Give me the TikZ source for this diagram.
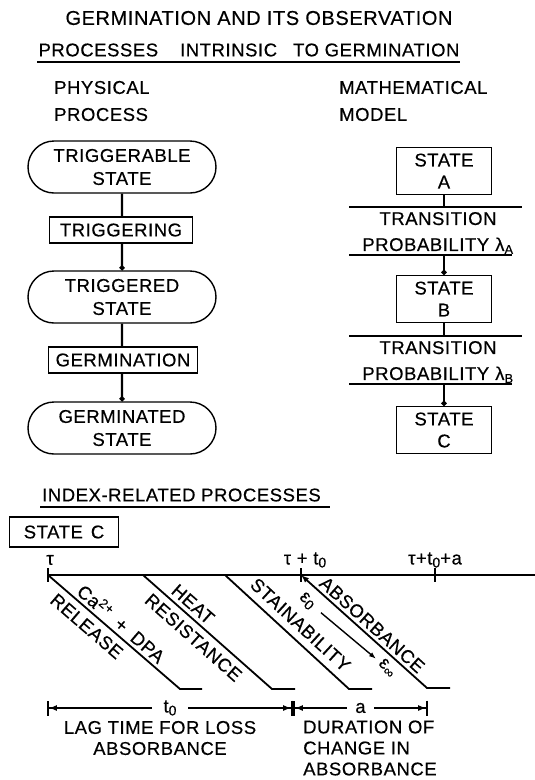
\documentclass[tikz,border=0pt]{standalone}
\usepackage{fontspec}
\setmainfont{Liberation Sans}[LetterSpace=3,FakeBold=0.4]
\usetikzlibrary{arrows.meta,shapes.misc}

\newcommand{\lowsub}[1]{\raisebox{-3pt}{\fontsize{14}{14}\selectfont #1}}

\begin{document}
\begin{tikzpicture}[x=1pt,y=-1pt,
  lbl/.style={font=\fontsize{18.5}{21}\selectfont,inner sep=1pt},
  stadium/.style={lbl,draw,line width=1.4pt,rounded rectangle,minimum width=190pt,minimum height=52pt,align=center},
  procbox/.style={lbl,draw,line width=1.4pt,minimum height=26pt},
  statebox/.style={lbl,draw,line width=1.4pt,minimum width=95pt,minimum height=47pt,align=center},
  conn/.style={line width=2.2pt},
  dotconn/.style={conn,-{Circle[length=5pt]}},
  slant/.style={line width=1.8pt},
  dim/.style={line width=1.8pt,{Bar[width=15pt]Latex[length=8pt,width=6pt]}-{Latex[length=8pt,width=6pt]Bar[width=15pt]}}]
\useasboundingbox (0,0) rectangle (535,780);

% headings
\node[font=\fontsize{20}{23}\selectfont] (title) at (259,18) {GERMINATION AND ITS OBSERVATION};
\node[lbl] (intr) at (249,50) {PROCESSES\hspace{22pt}INTRINSIC\hspace{16pt}TO GERMINATION};
\draw[line width=1.4pt] (37,62) -- (460,62);
\node[lbl,align=left,anchor=west] (phys) at (53,101) {PHYSICAL\\[6pt]PROCESS};
\node[lbl,align=left,anchor=west] (math) at (338,101) {MATHEMATICAL\\[6pt]MODEL};

% physical process
\node[stadium] (e1) at (122,167) {TRIGGERABLE\\[2pt]STATE};
\node[procbox,minimum width=143pt] (trg) at (121,230) {TRIGGERING};
\node[stadium] (e2) at (122,297) {TRIGGERED\\[2pt]STATE};
\node[procbox,minimum width=149pt] (grm) at (123,360) {GERMINATION};
\node[stadium] (e3) at (122,428) {GERMINATED\\[2pt]STATE};
\draw[conn] (e1) -- (e1 |- trg.north);
\draw[dotconn] (e1 |- trg.south) -- (e2);
\draw[conn] (e2) -- (e2 |- grm.north);
\draw[dotconn] (e2 |- grm.south) -- (e3);

% mathematical model
\node[statebox] (sa) at (444,171) {STATE\\[1pt]A};
\coordinate (ha1) at (349,207);
\coordinate (ha2) at (349,255);
\draw[line width=1.4pt] (ha1) -- ++(173,0);
\draw[line width=1.4pt] (ha2) -- ++(163,0);
\node[lbl,align=center] (pa) at (438,233) {TRANSITION\\[5pt]PROBABILITY\hspace{6pt}λ\textsubscript{A}};
\node[statebox] (sb) at (444,299) {STATE\\[1pt]B};
\coordinate (hb1) at (349,336);
\coordinate (hb2) at (349,384);
\draw[line width=1.4pt] (hb1) -- ++(173,0);
\draw[line width=1.4pt] (hb2) -- ++(163,0);
\node[lbl,align=center] (pb) at (438,362) {TRANSITION\\[5pt]PROBABILITY\hspace{6pt}λ\textsubscript{B}};
\node[statebox] (sc) at (444,430) {STATE\\[1pt]C};
\draw[conn] (sa) -- (sa |- ha1);
\draw[dotconn] (sa |- ha2) -- (sb);
\draw[conn] (sb) -- (sb |- hb1);
\draw[dotconn] (sb |- hb2) -- (sc);

% index-related processes
\node[lbl,anchor=west] (irp) at (41,495) {INDEX-RELATED PROCESSES};
\draw[line width=1.4pt] (40,507) -- (330,507);
\node[procbox,minimum width=109pt,minimum height=30pt] (stc) at (64,532) {STATE\hspace{8pt}C};

\coordinate (c1) at (48,575);
\coordinate (c2) at (143,575);
\coordinate (c3) at (225,575);
\coordinate (c4) at (301,575);
\coordinate (c5) at (435,575);
\coordinate (tend) at (535,575);
\coordinate (k1) at (180,689);
\coordinate (k2) at (272,689);
\coordinate (k3) at (349,689);
\coordinate (k4) at (427,688);
\draw[line width=2.2pt] (c1) -- (tend);
\foreach \c in {c1,c4,c5}
  \draw[line width=1.8pt] ([yshift=7pt]\c) -- ([yshift=-7pt]\c);
\node[lbl] (tau) at (50,560) {τ};
\node[lbl] (taut) at (305,560) {τ + t\lowsub{0}};
\node[lbl] (tauta) at (435,560) {τ+t\lowsub{0}+a};

\draw[slant] (c1) -- (k1)
  node[lbl,pos=.5,sloped,above=2pt] {Ca\textsuperscript{2+}\hspace{10pt}+\hspace{10pt}DPA}
  node[lbl,pos=.36,sloped,below=5pt] {RELEASE} -- ++(22,0);
\draw[slant] (c2) -- (k2)
  node[lbl,pos=.33,sloped,above=3pt] {HEAT}
  node[lbl,pos=.46,sloped,below=5pt] {RESISTANCE} -- ++(23,0);
\draw[slant] (c3) -- (k3)
  node[lbl,pos=.53,sloped,above=6pt] {STAINABILITY} -- ++(23,0);
\draw[slant,{Latex[length=8pt,width=6pt]}-] (c4) -- (k4)
  node[lbl,pos=.51,sloped,above=2pt] {ABSORBANCE} -- ++(23,0);
\node[lbl,rotate=-41.7] (eps0) at (307,601) {ε\lowsub{0}};
\node[lbl,rotate=-41.7] (epsi) at (387,668) {ε\lowsub{∞}};
\draw[line width=1.4pt,-{Latex[length=7pt,width=5pt]},shorten <=9pt,shorten >=4pt] (eps0) -- (epsi);

% durations
\coordinate (d1) at (47,708);
\coordinate (d2) at (293,708);
\coordinate (d3) at (428,708);
\draw[dim] (d1) -- node[lbl,fill=white,inner xsep=12pt] (tlbl) {t\lowsub{0}} (d2);
\draw[dim] (d2) -- node[lbl,fill=white,inner xsep=8pt] (albl) {a} (d3);
\node[lbl,align=center] (lag) at (160,738) {LAG TIME FOR LOSS\\ABSORBANCE};
\node[lbl,align=left,anchor=west] (dur) at (302,748) {DURATION OF\\CHANGE IN\\ABSORBANCE};
\end{tikzpicture}
\end{document}
